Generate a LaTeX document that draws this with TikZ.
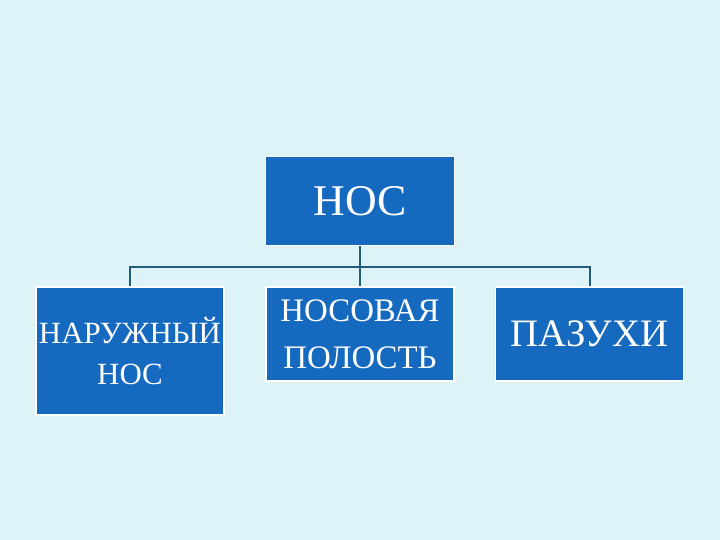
\documentclass[tikz,border=0pt]{standalone}
\usepackage{fontspec}
\setmainfont{Liberation Serif}
\definecolor{bgc}{HTML}{DDF3F7}
\definecolor{boxc}{HTML}{156AC0}
\definecolor{linec}{HTML}{235C7A}
\begin{document}
\begin{tikzpicture}[x=1bp,y=-1bp,
  box/.style={draw=white,line width=1.5bp,fill=boxc,text=white,align=center,inner sep=0pt,minimum width=188bp},
  conn/.style={draw=linec,line width=2bp}]
\fill[bgc] (0,0) rectangle (720,540);
\useasboundingbox (0,0) rectangle (720,540);
\node[box,minimum width=189bp,minimum height=89bp,font=\fontsize{44}{50}\selectfont] (top) at (360,201) {НОС};
\node[box,minimum height=128bp,font=\fontsize{31}{41}\selectfont] (left) at (130,351) {НАРУЖНЫЙ\\НОС};
\node[box,minimum height=94bp,font=\fontsize{33}{47}\selectfont] (mid) at (360,334) {НОСОВАЯ\\ПОЛОСТЬ};
\node[box,minimum height=94bp,font=\fontsize{39}{44}\selectfont] (right) at (589.5,334) {ПАЗУХИ};
\coordinate (j) at (360,267);
\draw[conn] (top.south) -- (j);
\draw[conn] (j) -- (mid.north);
\draw[conn] (left.north) |- (j);
\draw[conn] (right.north) |- (j);
\end{tikzpicture}
\end{document}
